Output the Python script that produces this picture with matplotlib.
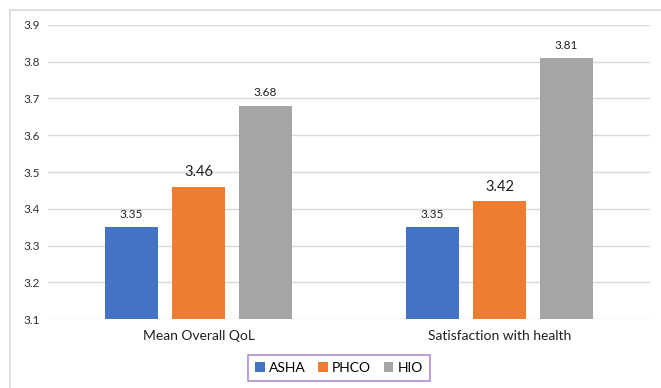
import matplotlib.pyplot as plt
import numpy as np
from matplotlib.lines import Line2D

plt.rcParams['font.family'] = ['Lato', 'DejaVu Sans']

categories = ['Mean Overall QoL', 'Satisfaction with health']
series = ['ASHA', 'PHCO', 'HIO']
asha = [3.35, 3.35]
phco = [3.46, 3.42]
hio = [3.68, 3.81]
colors = ['#4472C4', '#ED7D31', '#A5A5A5']

fig = plt.figure(figsize=(6.61, 3.88), dpi=100)
ax = fig.add_axes([0.0726, 0.1778, 0.9108, 0.7578])

x = np.arange(len(categories))
step = 0.2226
width = 0.176
label_sizes = [8.5, 10.5, 8.5]
for i, (name, vals) in enumerate(zip(series, [asha, phco, hio])):
    pos = x + (i - 1) * step
    ax.bar(pos, np.array(vals) - 3.1, bottom=3.1, width=width,
           color=colors[i], label=name, zorder=3)
    for p, v in zip(pos, vals):
        ax.text(p, v + 0.02, f'{v:.2f}', ha='center', va='bottom',
                fontsize=label_sizes[i], color='#202020')

ticks = np.arange(3.1, 3.95, 0.1)
ax.set_xlim(-0.5, 1.5)
ax.set_ylim(3.1, 3.9)
ax.set_yticks(ticks)
ax.set_yticklabels([f'{t:.1f}' for t in ticks])
ax.set_xticks(x)
ax.set_xticklabels(categories, fontsize=10, color='#202020')
ax.tick_params(axis='y', labelsize=8.5, labelcolor='#303030', length=0, pad=6)
ax.tick_params(axis='x', length=0, pad=8)
ax.grid(axis='y', color='#D9D9D9', linewidth=1, zorder=0)
for s in ax.spines.values():
    s.set_visible(False)

leg = fig.legend(loc='center', bbox_to_anchor=(339 / 661, 1 - 368 / 388),
                 ncol=3, frameon=True, fontsize=10, handlelength=0.7,
                 handleheight=0.7, handletextpad=0.3, columnspacing=0.9,
                 fancybox=False, borderpad=0.5)
leg.get_frame().set_edgecolor('#9B6FC8')
leg.get_frame().set_linewidth(1.2)

# outer chart frame
fig.add_artist(Line2D([10 / 661, 1], [1 - 10 / 388] * 2, color='#D9D9D9', lw=1.2))
fig.add_artist(Line2D([10 / 661] * 2, [0, 1 - 10 / 388], color='#D9D9D9', lw=1.2))

fig.savefig('out.png', dpi=100)
